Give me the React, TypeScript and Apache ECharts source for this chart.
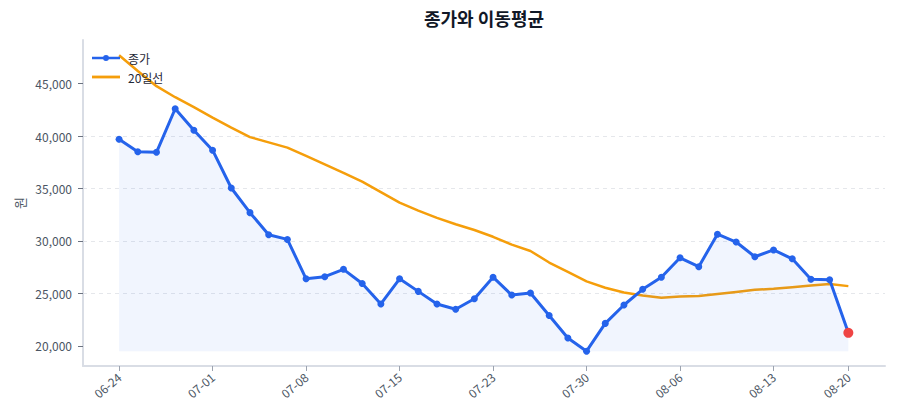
import { useEffect, useRef } from "react";
import * as echarts from "echarts";

// trading days (MM-DD)
const dates = [
  "06-24", "06-25", "06-26", "06-27", "06-30",
  "07-01", "07-02", "07-03", "07-04", "07-07",
  "07-08", "07-09", "07-10", "07-11", "07-14",
  "07-15", "07-16", "07-17", "07-18", "07-21",
  "07-23", "07-24", "07-25", "07-28", "07-29",
  "07-30", "07-31", "08-01", "08-04", "08-05",
  "08-06", "08-07", "08-08", "08-11", "08-12",
  "08-13", "08-14", "08-18", "08-19", "08-20",
];

const closePrices = [
  39700, 38500, 38450, 42600, 40550, 38650, 35050, 32700, 30600, 30150,
  26400, 26600, 27300, 25950, 24000, 26400, 25200, 24000, 23500, 24500,
  26550, 24850, 25050, 22900, 20750, 19500, 22150, 23900, 25400, 26550,
  28400, 27550, 30650, 29900, 28500, 29150, 28300, 26350, 26300, 21250,
];

const ma20 = [
  47700, 46200, 44750, 43700, 42750, 41750, 40800, 39900, 39400, 38900,
  38100, 37300, 36500, 35650, 34650, 33650, 32900, 32200, 31600, 31050,
  30400, 29650, 29050, 27950, 27050, 26150, 25550, 25100, 24800, 24600,
  24700, 24750, 24950, 25150, 25350, 25450, 25600, 25750, 25900, 25700,
];

const xLabelIdx = [0, 5, 10, 15, 20, 25, 30, 35, 39];
const yLabelValues = [20000, 25000, 30000, 35000, 40000, 45000];

const FONT = "Noto Sans CJK KR";

// legend icons in a 31x14 box (the stray moves keep the box size)
const ICON_LINE = "path://M0,0M31,14M0,5.6L28,5.6L28,8.4L0,8.4Z";
const ICON_LINE_DOT =
  "path://M0,0M31,14M0,5.8L28,5.8L28,8.2L0,8.2Z" +
  "M11,7A3,3 0 1 1 17,7A3,3 0 1 1 11,7Z";

function PriceChart() {
  const ref = useRef<HTMLDivElement>(null);
  useEffect(() => {
    if (!ref.current) return;
    document.body.style.margin = "0";
    const chart = echarts.init(ref.current, undefined, { renderer: "svg" });
    const lastIdx = closePrices.length - 1;
    const minClose = Math.min(...closePrices);
    chart.setOption({
      animation: false,
      textStyle: { fontFamily: FONT },
      title: {
        text: "종가와 이동평균",
        left: 419,
        top: 4,
        textStyle: { fontSize: 18, fontWeight: "bold", color: "#111827", fontFamily: FONT },
      },
      legend: {
        data: [
          { name: "종가", icon: ICON_LINE_DOT },
          { name: "20일선", icon: ICON_LINE },
        ],
        orient: "vertical",
        left: 87,
        top: 46,
        itemWidth: 31,
        itemHeight: 14,
        itemGap: 5,
        textStyle: { fontSize: 12, color: "#1f2937", fontFamily: FONT },
      },
      grid: { left: 83, right: 15, top: 40, bottom: 54, outerBoundsMode: "none" },
      xAxis: {
        type: "value",
        min: -1.93,
        max: 40.96,
        axisLine: { onZero: false, lineStyle: { color: "#d9dde5", width: 2 } },
        axisTick: {
          show: true,
          length: 5,
          customValues: xLabelIdx,
          lineStyle: { color: "#9ca3af" },
        },
        axisLabel: {
          customValues: xLabelIdx,
          formatter: (v: number) => dates[Math.round(v)] ?? "",
          rotate: 40,
          fontSize: 12,
          color: "#4b5563",
          margin: 9,
        },
        splitLine: { show: false },
      },
      yAxis: {
        type: "value",
        min: 18090,
        max: 49150,
        name: "원",
        nameLocation: "middle",
        nameGap: 57,
        nameMoveOverlap: false,
        nameTextStyle: { fontSize: 13, color: "#4b5563", fontFamily: FONT },
        axisLine: { show: true, onZero: false, lineStyle: { color: "#d9dde5", width: 2 } },
        axisTick: {
          show: true,
          length: 5,
          customValues: yLabelValues,
          lineStyle: { color: "#6b7280" },
        },
        axisLabel: {
          customValues: yLabelValues,
          formatter: (v: number) => v.toLocaleString("en-US"),
          fontSize: 12,
          color: "#4b5563",
          margin: 11,
        },
        splitLine: {
          show: true,
          showMinLine: false,
          showMaxLine: false,
          lineStyle: { color: "#e5e7eb", type: [4, 4] },
        },
      },
      series: [
        {
          name: "종가",
          type: "line",
          data: closePrices.map((v, i) =>
            i === lastIdx
              ? { value: [i, v], symbolSize: 10, itemStyle: { color: "#ef4444" } }
              : [i, v]
          ),
          symbol: "circle",
          symbolSize: 7,
          showAllSymbol: true,
          lineStyle: { color: "#2563eb", width: 3 },
          itemStyle: { color: "#2563eb" },
          areaStyle: { color: "rgba(37, 99, 235, 0.09)", origin: minClose },
          z: 3,
        },
        {
          name: "20일선",
          type: "line",
          data: ma20.map((v, i) => [i, v]),
          showSymbol: false,
          symbol: "none",
          lineStyle: { color: "#f59e0b", width: 2.5 },
          itemStyle: { color: "#f59e0b" },
          z: 2,
        },
      ],
    });
    return () => chart.dispose();
  }, []);
  return <div ref={ref} style={{ width: 900, height: 420 }} />;
}

export default function App() {
  return <PriceChart />;
}
